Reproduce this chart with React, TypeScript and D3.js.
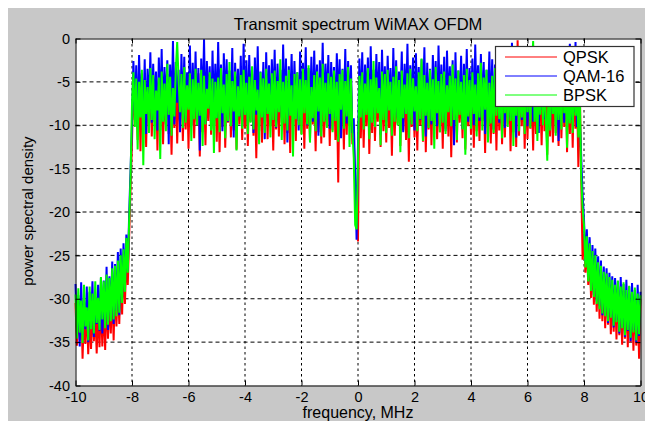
import React, { useEffect, useRef } from 'react'
import * as d3 from 'd3'

// frequency grid of the PSD samples (MHz)
const freqStart = -10
const freqStep = 0.05

// QPSK, dB (one row = 1 MHz, 20 bins)
const qpsk = [
    -30.5, -35.4, -31.2, -34.8, -30.1, -36.9, -31.8, -35.2, -30.7, -36.4, -32.0, -35.8, -30.9, -34.9, -31.5, -36.3, -31.0, -35.6, -30.3, -35.5,
    -30.6, -35.9, -29.5, -34.6, -30.1, -34.0, -28.8, -34.8, -28.4, -33.2, -27.8, -32.9, -27.0, -31.8, -26.2, -30.6, -25.1, -28.4, -22.8, -17.0,
    -12.0, -4.8, -9.4, -5.5, -11.7, -4.2, -13.0, -6.1, -9.8, -4.9, -12.5, -5.3, -10.1, -4.6, -11.3, -5.8, -9.6, -4.4, -12.9, -5.1,
    -10.6, -4.5, -12.2, -5.7, -9.9, -4.1, -11.0, -6.3, -13.4, -5.0, -10.3, -4.7, -12.1, -5.9, -9.7, -4.3, -11.8, -5.4, -10.5, -4.8,
    -12.7, -5.2, -10.0, -4.6, -11.5, -6.0, -9.8, -4.0, -13.6, -5.5, -10.8, -4.9, -12.3, -5.6, -9.5, -4.4, -11.1, -6.2, -10.4, -5.0,
    -11.9, -4.7, -13.1, -5.3, -10.2, -4.2, -12.6, -5.8, -9.7, -4.5, -11.4, -6.1, -10.6, -4.9, -12.8, -5.1, -9.9, -4.3, -11.7, -5.6,
    -10.3, -4.8, -12.4, -5.4, -9.6, -4.1, -11.2, -6.0, -13.8, -5.2, -10.7, -4.6, -12.0, -5.7, -9.8, -4.4, -11.6, -5.0, -10.1, -6.3,
    -12.9, -4.5, -10.5, -5.9, -11.3, -4.3, -9.7, -5.5, -12.2, -4.9, -10.9, -6.2, -13.2, -4.7, -10.0, -5.3, -11.8, -4.2, -9.5, -5.7,
    -11.0, -4.6, -12.7, -5.1, -10.4, -6.0, -11.9, -4.4, -9.9, -5.6, -13.0, -4.8, -10.8, -5.2, -12.1, -4.3, -11.4, -5.9, -10.2, -4.7,
    -12.4, -5.5, -10.6, -4.2, -11.7, -5.8, -16.6, -4.5, -10.3, -6.1, -12.8, -4.9, -11.1, -5.3, -10.0, -4.6, -12.2, -11.5, -17.0, -21.0,
    -23.4, -5.0, -11.5, -4.7, -12.6, -5.9, -10.1, -4.4, -13.3, -5.6, -10.9, -4.1, -11.8, -6.0, -9.6, -5.2, -12.5, -4.8, -10.7, -5.4,
    -12.0, -4.5, -10.3, -5.7, -13.5, -4.9, -11.2, -6.2, -9.8, -4.3, -12.4, -5.1, -10.6, -4.6, -11.7, -5.8, -14.2, -4.4, -10.2, -5.3,
    -11.4, -6.0, -12.9, -4.7, -10.0, -5.5, -11.9, -4.2, -13.1, -5.9, -10.5, -4.8, -12.3, -5.2, -9.9, -4.5, -11.6, -6.1, -10.8, -5.0,
    -12.7, -4.6, -10.4, -5.4, -11.3, -4.1, -13.7, -5.8, -10.9, -4.9, -12.0, -5.3, -9.7, -6.0, -11.5, -4.4, -12.8, -5.6, -10.1, -4.7,
    -11.1, -5.2, -12.6, -4.3, -10.7, -5.9, -11.8, -4.8, -9.5, -5.5, -13.2, -4.5, -10.3, -6.2, -12.1, -4.9, -11.0, -5.1, -12.9, -4.4,
    -10.6, -5.7, -12.2, -4.6, -11.4, -5.3, -9.9, -4.2, -13.0, -5.8, -10.8, -4.7, -12.5, -0.2, -11.2, -5.0, -10.1, -4.3, -12.7, -5.5,
    -11.6, -4.8, -10.4, -6.0, -12.9, -4.4, -11.0, -5.2, -9.8, -5.7, -12.3, -4.5, -10.7, -5.9, -13.4, -4.9, -11.3, -5.1, -12.0, -4.2,
    -10.9, -5.6, -12.4, -4.7, -11.5, -5.3, -10.2, -4.1, -13.1, -5.8, -11.0, -4.6, -12.6, -5.0, -10.4, -5.9, -14.8, -5.2, -16.0, -25.5,
    -22.5, -27.0, -23.8, -28.4, -24.7, -29.9, -25.3, -30.7, -26.0, -31.5, -26.7, -32.3, -27.2, -32.6, -27.6, -33.4, -28.0, -33.0, -28.4, -34.1,
    -28.9, -33.8, -29.3, -34.7, -28.8, -34.2, -29.6, -35.3, -29.1, -34.6, -30.0, -35.6, -29.4, -35.0, -30.2, -36.0, -29.8, -35.4, -30.4, -36.9,
    -30.0,
]

// QAM-16, dB
const qam16 = [
    -28.3, -33.9, -29.6, -35.5, -28.1, -34.2, -30.0, -33.5, -28.6, -35.0, -29.2, -33.1, -28.0, -34.4, -29.8, -32.9, -28.4, -33.7, -27.6, -34.0,
    -27.9, -32.8, -26.3, -33.6, -27.4, -31.9, -25.7, -32.9, -26.0, -31.4, -24.6, -31.9, -24.2, -30.0, -23.6, -28.6, -22.6, -26.8, -20.2, -15.0,
    -9.8, -2.6, -8.4, -3.1, -10.3, -1.9, -7.6, -4.0, -9.1, -2.4, -11.0, -3.5, -8.2, -1.6, -9.7, -2.9, -7.9, -3.8, -10.6, -2.2,
    -8.8, -1.2, -9.5, -3.3, -7.7, -2.5, -12.2, -3.0, -8.5, -0.3, -9.9, -2.7, -7.4, -3.6, -10.8, -1.8, -8.9, -2.1, -9.3, -3.9,
    -7.8, -0.8, -10.1, -2.8, -8.6, -1.5, -9.4, -3.4, -12.9, -2.3, -8.1, -0.1, -9.8, -2.6, -7.5, -3.2, -10.4, -1.4, -8.7, -2.9,
    -9.2, -0.4, -8.0, -3.0, -10.7, -1.7, -7.9, -2.4, -9.6, -3.7, -8.3, -1.1, -11.4, -2.8, -7.6, -3.5, -9.0, -2.0, -10.2, -0.6,
    -8.5, -2.5, -9.9, -1.9, -7.7, -3.3, -10.9, -2.2, -8.8, -0.9, -9.3, -3.8, -7.9, -2.7, -11.6, -1.6, -8.4, -3.1, -9.7, -2.4,
    -8.0, -1.3, -10.3, -2.9, -7.6, -3.6, -9.1, -0.7, -8.6, -2.3, -12.0, -3.2, -7.8, -1.8, -9.5, -2.6, -8.2, -3.9, -10.6, -1.5,
    -9.0, -2.8, -7.7, -1.0, -10.0, -3.4, -8.7, -2.1, -9.6, -1.4, -7.9, -3.0, -11.2, -2.5, -8.3, -0.5, -9.4, -2.9, -7.6, -1.9,
    -10.4, -2.7, -8.1, -3.3, -9.2, -1.7, -7.8, -2.4, -11.5, -3.5, -8.6, -1.2, -9.8, -2.6, -8.0, -3.1, -10.9, -9.2, -16.0, -23.2,
    -12.0, -2.3, -8.5, -1.6, -9.7, -3.0, -7.6, -2.2, -10.5, -0.9, -8.9, -3.6, -9.3, -1.8, -7.9, -2.7, -11.1, -1.3, -8.4, -3.2,
    -9.6, -2.0, -7.7, -3.4, -10.2, -1.1, -8.8, -2.5, -9.1, -3.8, -7.5, -1.5, -10.8, -2.9, -8.2, -0.6, -9.5, -3.1, -8.0, -2.2,
    -10.6, -1.7, -8.3, -3.3, -9.4, -2.4, -7.8, -1.0, -11.3, -2.8, -8.7, -3.5, -9.9, -1.9, -7.6, -2.6, -10.1, -0.8, -8.5, -3.0,
    -9.0, -2.1, -10.7, -1.4, -7.9, -3.2, -8.6, -2.5, -12.3, -1.6, -9.3, -3.7, -7.7, -2.0, -10.4, -2.9, -8.1, -1.2, -9.6, -3.4,
    -8.4, -2.3, -10.0, -0.7, -7.8, -3.1, -9.5, -1.8, -8.9, -2.7, -11.0, -3.6, -7.6, -1.5, -9.2, -2.4, -10.5, -3.0, -8.2, -1.9,
    -9.7, -2.2, -8.0, -3.5, -10.3, -1.3, -7.7, -2.8, -9.1, -0.5, -8.6, -3.0, -11.4, -2.0, -7.9, -3.3, -9.4, -1.7, -8.3, -2.6,
    -10.1, -3.1, -8.8, -1.5, -9.6, -2.4, -7.5, -3.7, -10.9, -1.9, -8.2, -2.9, -9.3, -1.2, -7.8, -3.4, -10.5, -2.1, -8.6, -3.0,
    -9.0, -1.8, -11.8, -2.6, -8.1, -3.5, -9.7, -2.0, -7.7, -3.2, -0.6, -9.4, -2.7, -8.5, -0.4, -10.2, -3.8, -9.1, -13.5, -18.0,
    -20.8, -25.7, -22.0, -27.4, -22.9, -28.5, -23.8, -29.6, -24.2, -30.3, -25.1, -30.8, -25.6, -31.9, -26.3, -31.4, -26.5, -32.8, -27.0, -32.0,
    -27.4, -33.3, -27.6, -32.5, -28.0, -34.0, -27.5, -33.2, -28.3, -34.4, -27.8, -33.7, -28.6, -34.9, -28.2, -33.6, -29.0, -35.0, -28.4, -34.3,
    -29.2,
]

// BPSK, dB
const bpsk = [
    -29.5, -34.6, -28.8, -33.9, -30.2, -35.1, -28.4, -33.2, -31.0, -34.8, -28.6, -33.5, -29.4, -34.0, -28.0, -32.8, -29.9, -33.6, -27.5, -32.4,
    -28.0, -33.4, -27.2, -33.0, -27.6, -32.6, -26.5, -32.4, -26.2, -32.0, -25.6, -31.6, -25.0, -30.5, -24.3, -29.2, -23.0, -27.0, -21.0, -16.0,
    -7.5, -3.9, -10.2, -4.6, -12.8, -5.0, -9.1, -3.6, -14.6, -4.8, -8.7, -5.6, -10.9, -3.4, -9.4, -4.2, -11.6, -6.0, -8.3, -4.5,
    -13.9, -3.8, -9.6, -5.2, -10.7, -2.9, -8.8, -4.4, -11.2, -5.7, -9.0, -3.7, -0.4, -4.9, -8.5, -4.1, -10.3, -3.3, -9.7, -5.4,
    -8.2, -4.0, -11.8, -4.7, -9.3, -3.5, -10.0, -5.1, -8.9, -3.6, -12.4, -4.3, -9.9, -5.8, -8.1, -3.9, -10.6, -4.6, -13.2, -5.0,
    -9.2, -4.5, -10.8, -3.4, -8.6, -5.3, -11.5, -4.1, -9.5, -2.7, -10.1, -4.9, -8.4, -3.8, -12.9, -5.5, -9.0, -4.2, -10.4, -3.6,
    -8.8, -5.1, -11.0, -4.4, -9.7, -3.2, -10.5, -4.8, -8.3, -5.9, -12.2, -3.9, -9.1, -4.6, -10.9, -3.5, -8.7, -5.2, -11.4, -4.0,
    -9.4, -3.7, -10.2, -4.9, -8.5, -2.4, -11.7, -5.0, -9.8, -4.3, -10.6, -3.6, -8.9, -5.4, -13.6, -4.1, -9.3, -3.9, -10.0, -4.7,
    -11.1, -3.5, -8.6, -4.8, -9.9, -3.1, -12.0, -5.6, -9.2, -4.2, -10.7, -3.8, -8.4, -4.5, -11.3, -2.9, -9.6, -5.1, -10.3, -4.0,
    -8.7, -4.4, -10.8, -3.7, -9.5, -5.0, -11.9, -4.1, -8.2, -3.6, -10.4, -4.9, -9.0, -3.3, -12.5, -4.6, -10.6, -13.8, -21.5, -22.0,
    -14.2, -4.3, -9.1, -3.9, -10.5, -5.2, -8.8, -3.4, -11.6, -4.7, -9.7, -2.6, -10.2, -4.5, -8.6, -5.7, -12.3, -3.8, -9.4, -4.1,
    -10.9, -3.6, -8.3, -5.0, -11.2, -4.4, -9.6, -3.2, -10.0, -4.8, -13.1, -3.7, -9.2, -5.3, -8.7, -4.0, -11.5, -3.5, -9.9, -4.6,
    -8.4, -5.5, -10.7, -3.9, -9.3, -2.3, -11.8, -4.2, -8.9, -5.1, -10.3, -3.6, -9.5, -4.7, -12.7, -3.3, -8.6, -4.9, -10.8, -4.1,
    -9.7, -3.8, -11.0, -5.4, -8.5, -4.3, -10.1, -3.0, -9.4, -4.6, -11.7, -3.7, -8.8, -5.0, -10.5, -4.2, -13.4, -3.5, -9.0, -4.8,
    -10.4, -3.9, -8.7, -5.3, -11.3, -4.0, -9.1, -2.8, -10.6, -4.5, -8.2, -3.6, -12.0, -5.1, -9.8, -4.3, -10.9, -3.4, -8.9, -4.7,
    -9.3, -4.4, -11.5, -3.7, -8.6, -5.2, -10.2, -4.1, -9.5, -3.3, -12.4, -4.8, -8.9, -3.9, -10.7, -5.0, -9.1, -4.2, -11.0, -3.6,
    -8.5, -4.6, -10.3, -3.8, -0.3, -9.6, -5.3, -11.8, -4.0, -8.8, -3.5, -10.0, -4.9, -9.2, -14.1, -4.3, -10.6, -3.7, -8.7, -5.1,
    -11.2, -4.2, -9.4, -5.6, -10.5, -3.9, -8.6, -4.7, -12.6, -5.0, -9.8, -4.4, -10.9, -3.6, -8.9, -5.5, -11.4, -6.1, -15.8, -19.5,
    -21.5, -26.4, -22.8, -28.0, -23.6, -29.1, -24.5, -29.8, -25.0, -30.6, -25.8, -31.2, -26.2, -31.7, -26.9, -32.0, -27.1, -32.6, -27.5, -32.2,
    -27.8, -33.1, -28.4, -32.7, -27.9, -33.8, -28.6, -33.4, -28.1, -34.2, -29.0, -33.6, -28.5, -34.5, -29.2, -33.9, -28.7, -34.8, -29.4, -34.1,
    -29.6,
]

const seriesNames = ['QPSK', 'QAM-16', 'BPSK']
const seriesColors = ['#ff0000', '#0000ff', '#00ff00']
const xTicks = [-10, -8, -6, -4, -2, 0, 2, 4, 6, 8, 10]
const yTicks = [0, -5, -10, -15, -20, -25, -30, -35, -40]

export default function App() {
    const svgRef = useRef<SVGSVGElement>(null)

    useEffect(() => {
        document.body.style.margin = '0'
        const width = 645
        const height = 421
        const left = 75.5
        const right = 640.5
        const top = 38.5
        const bottom = 385.5
        const font = "'Liberation Sans', Arial, Helvetica, sans-serif"

        const svg = d3.select(svgRef.current)
        svg.selectAll('*').remove()
        svg.attr('width', width).attr('height', height)

        svg.append('rect').attr('width', width).attr('height', height).attr('fill', '#ffffff')
        svg.append('rect')
            .attr('x', 8)
            .attr('y', 8)
            .attr('width', width - 8)
            .attr('height', height - 8)
            .attr('fill', '#c8c8c8')
        svg.append('rect')
            .attr('x', left)
            .attr('y', top)
            .attr('width', right - left)
            .attr('height', bottom - top)
            .attr('fill', '#ffffff')

        const xScale = d3.scaleLinear().domain([-10, 10]).range([left, right])
        const yScale = d3.scaleLinear().domain([-40, 0]).range([bottom, top])

        // dotted grid
        svg.append('g')
            .selectAll('line')
            .data(xTicks.slice(1, -1))
            .enter()
            .append('line')
            .attr('x1', (d) => xScale(d))
            .attr('x2', (d) => xScale(d))
            .attr('y1', top)
            .attr('y2', bottom)
            .attr('stroke', '#000')
            .attr('stroke-width', 1)
            .attr('stroke-dasharray', '2.5,3')
        svg.append('g')
            .selectAll('line')
            .data(yTicks.slice(1, -1))
            .enter()
            .append('line')
            .attr('x1', left)
            .attr('x2', right)
            .attr('y1', (d) => yScale(d))
            .attr('y2', (d) => yScale(d))
            .attr('stroke', '#000')
            .attr('stroke-width', 1)
            .attr('stroke-dasharray', '4,3')

        // spectra
        const line = d3
            .line<number>()
            .x((d, i) => xScale(freqStart + i * freqStep))
            .y((d) => yScale(d))

        const series = [qpsk, qam16, bpsk]
        svg.append('g')
            .selectAll('path')
            .data(series)
            .enter()
            .append('path')
            .attr('d', (d) => line(d))
            .attr('fill', 'none')
            .attr('stroke', (d, i) => seriesColors[i])
            .attr('stroke-width', 2)
            .attr('stroke-linejoin', 'bevel')

        // axes, ticks inside
        const styleAxis = (g) => {
            g.attr('font-family', font).attr('font-size', 14.5).attr('color', '#000')
            g.selectAll('text').attr('fill', '#000')
        }
        svg.append('g')
            .attr('transform', `translate(0, ${bottom})`)
            .call(d3.axisBottom(xScale).tickValues(xTicks).tickSize(-5).tickSizeOuter(0).tickPadding(6).tickFormat((d) => String(d)))
            .call(styleAxis)
        svg.append('g')
            .attr('transform', `translate(${left}, 0)`)
            .call(d3.axisLeft(yScale).tickValues(yTicks).tickSize(-5).tickSizeOuter(0).tickPadding(5.5).tickFormat((d) => String(d)))
            .call(styleAxis)
        svg.append('g')
            .attr('transform', `translate(0, ${top})`)
            .call(d3.axisTop(xScale).tickValues(xTicks).tickSize(-5).tickSizeOuter(0).tickFormat(() => ''))
            .call(styleAxis)
        svg.append('g')
            .attr('transform', `translate(${right}, 0)`)
            .call(d3.axisRight(yScale).tickValues(yTicks).tickSize(-5).tickSizeOuter(0).tickFormat(() => ''))
            .call(styleAxis)

        // titles
        svg.append('text')
            .attr('x', (left + right) / 2)
            .attr('y', 29.5)
            .attr('text-anchor', 'middle')
            .attr('font-family', font)
            .attr('font-size', 16.5)
            .text('Transmit spectrum WiMAX OFDM')

        svg.append('text')
            .attr('x', (left + right) / 2)
            .attr('y', 417.5)
            .attr('text-anchor', 'middle')
            .attr('font-family', font)
            .attr('font-size', 16)
            .text('frequency, MHz')

        svg.append('text')
            .attr('transform', `translate(33, 211) rotate(-90)`)
            .attr('text-anchor', 'middle')
            .attr('font-family', font)
            .attr('font-size', 15)
            .text('power spectral density')

        // legend
        const legend = svg.append('g')
        legend.append('rect')
            .attr('x', 495.5)
            .attr('y', 46.5)
            .attr('width', 138.5)
            .attr('height', 60)
            .attr('fill', '#ffffff')
            .attr('stroke', '#333')
            .attr('stroke-width', 1.2)
        const items = legend
            .selectAll('.item')
            .data(seriesNames)
            .enter()
            .append('g')
            .attr('class', 'item')
            .attr('transform', (d, i) => `translate(0, ${57 + i * 19})`)
        items.append('line')
            .attr('x1', 505)
            .attr('x2', 557)
            .attr('stroke', (d, i) => seriesColors[i])
            .attr('stroke-width', 1)
        items.append('text')
            .attr('x', 563)
            .attr('dy', '0.36em')
            .attr('font-family', font)
            .attr('font-size', 16.5)
            .text((d) => d)
    }, [])

    return <svg ref={svgRef} style={{ display: 'block' }} />
}
